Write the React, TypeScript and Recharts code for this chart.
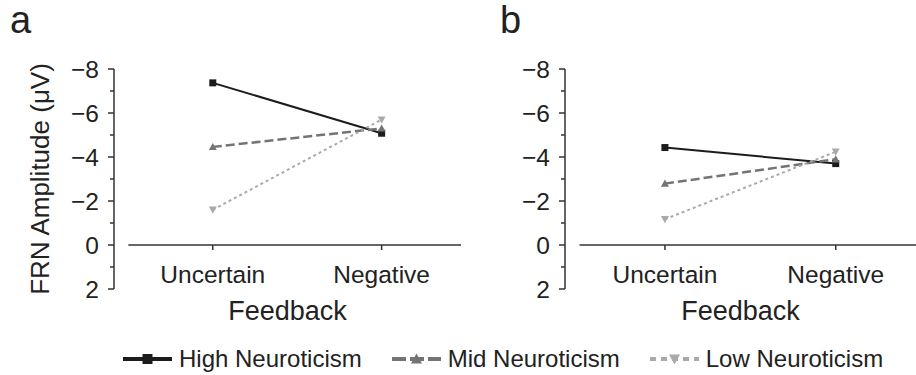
import React from 'react';
import { LineChart, Line, XAxis, YAxis, ReferenceLine, Legend } from 'recharts';

const categories = ['Uncertain', 'Negative'];
const highA = [-7.37, -5.08];
const midA = [-4.46, -5.3];
const lowA = [-1.6, -5.7];
const highB = [-4.43, -3.7];
const midB = [-2.79, -3.9];
const lowB = [-1.17, -4.24];
const yTicks = [-8, -7, -6, -5, -4, -3, -2, -1, 0, 1, 2];
const xTicks = [0, 1];

const FONT = '"Liberation Sans", Arial, Helvetica, sans-serif';
const TEXT = '#222';
const AXIS = '#333';
const X_DOMAIN: [number, number] = [-0.585, 1.47];
const Y_DOMAIN: [number, number] = [-8, 2];
const ZERO_SHIFT = 44; // px from plot bottom (value 2) up to value 0

const SERIES = [
  { key: 'high', name: 'High Neuroticism', color: '#1c1c1c', width: 2, dash: undefined as string | undefined, marker: 'square', lw: 4, ldash: undefined as string | undefined },
  { key: 'mid', name: 'Mid Neuroticism', color: '#747474', width: 2.5, dash: '9 4', marker: 'up', lw: 4, ldash: '14 4' },
  { key: 'low', name: 'Low Neuroticism', color: '#aaaaaa', width: 2, dash: '3 3', marker: 'down', lw: 4, ldash: '6 5' },
];

function buildRows(h: number[], m: number[], l: number[]) {
  return categories.map((c, i) => ({ x: i, cat: c, high: h[i], mid: m[i], low: l[i] }));
}
const rowsA = buildRows(highA, midA, lowA);
const rowsB = buildRows(highB, midB, lowB);

function Marker({ kind, cx, cy, color, s }: any) {
  if (cx == null || cy == null) return null;
  if (kind === 'square') {
    return <rect x={cx - s / 2} y={cy - s / 2} width={s} height={s} fill={color} />;
  }
  if (kind === 'up') {
    return <polygon points={`${cx - s / 2},${cy + s * 0.4} ${cx + s / 2},${cy + s * 0.4} ${cx},${cy - s * 0.5}`} fill={color} />;
  }
  return <polygon points={`${cx - s / 2},${cy - s * 0.4} ${cx + s / 2},${cy - s * 0.4} ${cx},${cy + s * 0.5}`} fill={color} />;
}

function makeDot(kind: string, color: string) {
  return (props: any) => (
    <g key={`${kind}-${props.index}`}>
      <Marker kind={kind} cx={props.cx} cy={props.cy} color={color} s={kind === 'square' ? 7 : 8} />
    </g>
  );
}

function XTick(props: any) {
  const { x, y, payload } = props;
  const y0 = y - ZERO_SHIFT;
  return (
    <g>
      <line x1={x} x2={x} y1={y0} y2={y0 + 5} stroke={AXIS} strokeWidth={1.5} />
      <text x={x} y={y0 + 38} textAnchor="middle" fill={TEXT} fontSize={24.5} fontFamily={FONT}>
        {categories[payload.value]}
      </text>
    </g>
  );
}

function YTick(props: any) {
  const { x, y, payload } = props;
  const v = payload.value as number;
  const major = v % 2 === 0;
  const label = v < 0 ? '\u2212' + Math.abs(v) : String(v);
  return (
    <g>
      <line x1={x - (major ? 6 : 4)} x2={x} y1={y} y2={y} stroke={AXIS} strokeWidth={1.5} />
      {major && (
        <text x={x - 15} y={y} dy="0.36em" textAnchor="end" fill={TEXT} fontSize={24.5} fontFamily={FONT}>
          {label}
        </text>
      )}
    </g>
  );
}

function YLab(props: any) {
  const vb = props.viewBox || { x: 0, y: 69, width: 114, height: 220 };
  const cx = vb.x + 40;
  const cy = vb.y + vb.height / 2;
  return (
    <text x={cx} y={cy} transform={`rotate(-90, ${cx}, ${cy})`} textAnchor="middle" dominantBaseline="central" fill={TEXT} fontSize={26} fontFamily={FONT}>
      FRN Amplitude (μV)
    </text>
  );
}

function LegendIcon({ s }: any) {
  return (
    <svg width={49} height={20} style={{ display: 'block' }}>
      <line x1={0} x2={49} y1={10} y2={10} stroke={s.color} strokeWidth={s.lw} strokeDasharray={s.ldash} />
      <Marker kind={s.marker} cx={24.5} cy={10} color={s.color} s={s.marker === 'square' ? 10 : 11} />
    </svg>
  );
}

function LegendBox() {
  return (
    <div style={{ display: 'flex', alignItems: 'center', paddingLeft: 123, height: 24, fontFamily: FONT, fontSize: 24, color: TEXT, lineHeight: '24px', whiteSpace: 'nowrap' }}>
      {SERIES.map((s, i) => (
        <div key={s.key} style={{ display: 'flex', alignItems: 'center', marginLeft: i === 0 ? 0 : 30 }}>
          <LegendIcon s={s} />
          <span style={{ marginLeft: 7 }}>{s.name}</span>
        </div>
      ))}
    </div>
  );
}

function Panel({ rows, left, plotW, showYLabel, showLegend }: any) {
  const yw = 114;
  return (
    <div style={{ position: 'absolute', left, top: 0 }}>
      <LineChart width={yw + plotW} height={330} data={rows} margin={{ top: 69, right: 0, bottom: 10, left: 0 }}>
        <XAxis
          type="number"
          dataKey="x"
          domain={X_DOMAIN}
          ticks={xTicks}
          interval={0}
          allowDataOverflow
          axisLine={false}
          tickLine={false}
          tickSize={0}
          tickMargin={0}
          height={31}
          tick={<XTick />}
          label={{ value: 'Feedback', position: 'insideBottom', offset: 0, fontSize: 27, fill: TEXT, fontFamily: FONT }}
        />
        <YAxis
          type="number"
          domain={Y_DOMAIN}
          reversed
          ticks={yTicks}
          interval={0}
          allowDataOverflow
          width={yw}
          axisLine={{ stroke: AXIS, strokeWidth: 1.5 }}
          tickLine={false}
          tickSize={0}
          tickMargin={0}
          tick={<YTick />}
          label={showYLabel ? <YLab /> : undefined}
        />
        <ReferenceLine
          segment={[{ x: -0.5, y: 0 }, { x: X_DOMAIN[1], y: 0 }]}
          stroke={AXIS}
          strokeWidth={1.5}
          ifOverflow="visible"
        />
        {SERIES.map((s) => (
          <Line
            key={s.key}
            type="linear"
            dataKey={s.key}
            name={s.name}
            stroke={s.color}
            strokeWidth={s.width}
            strokeDasharray={s.dash}
            dot={makeDot(s.marker, s.color)}
            activeDot={false}
            isAnimationActive={false}
          />
        ))}
        {showLegend && (
          <Legend
            layout="horizontal"
            verticalAlign="middle"
            align="center"
            content={() => <LegendBox />}
            wrapperStyle={{ position: 'absolute', left: 0, top: 347, width: 916, height: 24 }}
          />
        )}
      </LineChart>
    </div>
  );
}

export default function App() {
  return (
    <div style={{ position: 'absolute', left: 0, top: 0, width: 916, height: 375, background: '#fff', overflow: 'hidden', fontFamily: FONT }}>
      <div style={{ position: 'absolute', left: 10, top: 0, fontSize: 38, lineHeight: '40px', color: TEXT, fontFamily: FONT }}>a</div>
      <div style={{ position: 'absolute', left: 500, top: 0, fontSize: 38, lineHeight: '40px', color: TEXT, fontFamily: FONT }}>b</div>
      <Panel rows={rowsA} left={0} plotW={347} showYLabel showLegend />
      <Panel rows={rowsB} left={451} plotW={351} />
    </div>
  );
}
